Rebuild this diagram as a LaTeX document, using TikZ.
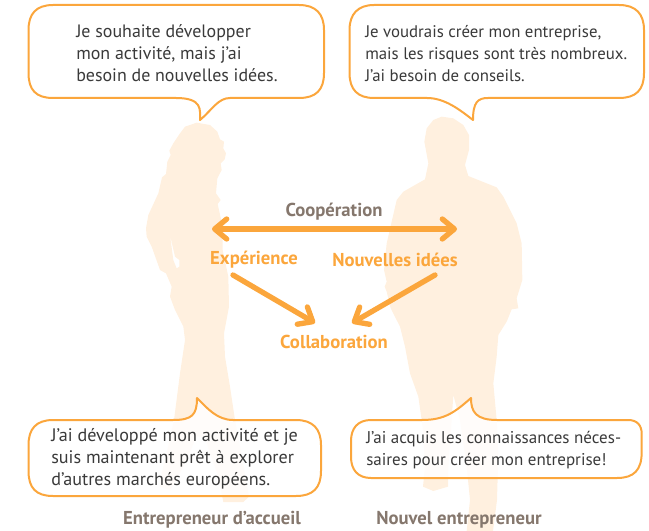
\documentclass[tikz,border=0pt]{standalone}
\usepackage{fontspec}
\setmainfont{PT Sans}
\usetikzlibrary{arrows.meta}
\definecolor{orng}{HTML}{FBA63C}
\definecolor{sil}{HTML}{FFF0DF}
\definecolor{bodytxt}{HTML}{3A3A3A}
\definecolor{greytxt}{HTML}{85776D}
\tikzset{
  silhouette/.style={fill=sil,draw=none},
  bubble/.style={draw=orng,line width=1.5pt,fill=white,fill opacity=0.85,line join=round},
  saying/.style={anchor=west,align=left,text=bodytxt,inner sep=0pt,font=\fontsize{#1}{16.5}\selectfont},
  lbl/.style={inner sep=0pt,font=\fontsize{14}{16}\selectfont\bfseries},
  flow/.style={draw=orng,line width=4pt,line cap=round,-{Straight Barb[round,length=9pt,width=15pt,line width=4pt]}},
  both/.style={draw=orng,line width=4pt,line cap=round,{Straight Barb[round,length=9pt,width=15pt,line width=4pt]}-{Straight Barb[round,length=9pt,width=15pt,line width=4pt]}}
}
\begin{document}
\begin{tikzpicture}[x=0.75pt,y=-0.75pt]
\useasboundingbox (0,0) rectangle (649,531);
\begin{scope}
\clip (0,0) rectangle (649,531);
% woman
\begin{scope}[shift={(130,100)},x=0.25pt,y=-0.25pt]
\fill[silhouette,even odd rule] (200,68)--(240,75)--(262,95)--(270,118)--(282,125)--(280,145)--(288,160)--(284,178)--(272,190)--(275,210)--(262,235)--(258,280)--(272,300)--(263,312)--(278,380)--(278,450)--(295,530)--(297,620)--(282,700)--(285,770)--(300,860)--(315,960)--(330,1040)--(357,1190)--(340,1206)--(280,1206)--(265,1130)--(240,1060)--(225,1010)--(200,1010)--(160,1100)--(120,1170)--(90,1160)--(95,1120)--(110,1060)--(125,990)--(132,960)--(150,820)--(165,720)--(160,680)--(135,630)--(120,590)--(125,560)--(108,520)--(90,510)--(65,440)--(50,410)--(48,385)--(55,345)--(85,280)--(96,232)--(108,222)--(112,185)--(122,165)--(118,152)--(130,130)--(150,100)--(165,80)--cycle
(120,405)--(135,470)--(148,480)--(148,500)--(140,505)--(130,480)--cycle;
\end{scope}
% man
\begin{scope}[shift={(370,100)},x=0.25pt,y=-0.25pt]
\fill[silhouette] (190,60)--(215,50)--(250,55)--(280,75)--(297,105)--(297,150)--(285,195)--(295,228)--(380,262)--(400,290)--(440,370)--(455,430)--(457,540)--(440,595)--(445,625)--(425,628)--(410,665)--(385,705)--(380,770)--(370,850)--(380,960)--(385,1060)--(381,1200)--(369,1293)--(290,1293)--(300,1200)--(290,1100)--(270,960)--(250,885)--(245,960)--(235,1100)--(234,1160)--(190,1173)--(159,1160)--(165,1100)--(160,1000)--(155,960)--(145,890)--(120,820)--(105,740)--(90,680)--(62,625)--(50,575)--(44,560)--(50,545)--(42,510)--(50,430)--(80,300)--(100,275)--(165,238)--(175,190)--(163,125)--(170,85)--cycle;
\end{scope}
\end{scope}
% bubbles
\draw[bubble] (53,5) -- (299,5) .. controls (316,5) and (324,14) .. (324,30) -- (324,73) .. controls (324,90) and (316,98) .. (299,98) -- (230,98) .. controls (218,98) and (212,110) .. (200,120) .. controls (200,110) and (203,98) .. (176,98) -- (53,98) .. controls (36,98) and (28.5,90) .. (28.5,73) -- (28.5,30) .. controls (28.5,14) and (36,5) .. (53,5) -- cycle;
\draw[bubble] (374,5) -- (619,5) .. controls (636,5) and (644,14) .. (644,30) -- (644,73) .. controls (644,90) and (636,98) .. (619,98) -- (488,98) .. controls (478,98) and (473,102) .. (473,120) .. controls (460,110) and (445,98) .. (427,98) -- (374,98) .. controls (358,98) and (349.5,90) .. (349.5,73) -- (349.5,30) .. controls (349.5,14) and (358,5) .. (374,5) -- cycle;
\draw[bubble] (53,420) -- (173,420) .. controls (192,420) and (197,415) .. (197,398) .. controls (207,408) and (217,420) .. (233,420) -- (296,420) .. controls (313,420) and (321,429) .. (321,445) -- (321,471) .. controls (321,488) and (313,496) .. (296,496) -- (53,496) .. controls (36,496) and (28.5,488) .. (28.5,471) -- (28.5,445) .. controls (28.5,429) and (36,420) .. (53,420) -- cycle;
\draw[bubble] (371,420) -- (422,420) .. controls (445,420) and (455,412) .. (471,398) .. controls (471,412) and (476,420) .. (497,420) -- (628,420) .. controls (637,420) and (641.7,425) .. (641.7,434) -- (641.7,452) .. controls (641.7,470) and (634,478) .. (617,478) -- (371,478) .. controls (358,478) and (351,470) .. (351,457) -- (351,441) .. controls (351,428) and (358,420) .. (371,420) -- cycle;
% sayings
\node[saying=13.45] (s1) at (76,53) {Je souhaite développer\\mon activité, mais j’ai\\besoin de nouvelles idées.};
\node[saying=12.6] (s2) at (365,54) {Je voudrais créer mon entreprise,\\mais les risques sont très nombreux.\\J’ai besoin de conseils.};
\node[saying=13.6] (s3) at (51,459) {J’ai développé mon activité et je\\suis maintenant prêt à explorer\\d’autres marchés européens.};
\node[saying=12.75] (s4) at (366,450) {J’ai acquis les connaissances néces-\\saires pour créer mon entreprise!};
% labels
\node[lbl,text=greytxt] (coop) at (334,212) {Coopération};
\node[lbl,text=orng] (exp) at (254,260) {Expérience};
\node[lbl,text=orng] (idees) at (395,260) {Nouvelles idées};
\node[lbl,text=orng] (coll) at (334,342) {Collaboration};
\node[lbl,text=greytxt] (acc) at (212,520) {Entrepreneur d’accueil};
\node[lbl,text=greytxt] (nouv) at (459,520) {Nouvel entrepreneur};
% connectors
\coordinate (cl) at (212,229);
\coordinate (cr) at (457,229);
\coordinate (el) at (233,275);
\coordinate (er) at (315,323);
\coordinate (il) at (435,275);
\coordinate (ir) at (352,323);
\draw[both] (cl) -- (cr);
\draw[flow] (el) -- (er);
\draw[flow] (il) -- (ir);
\end{tikzpicture}
\end{document}
